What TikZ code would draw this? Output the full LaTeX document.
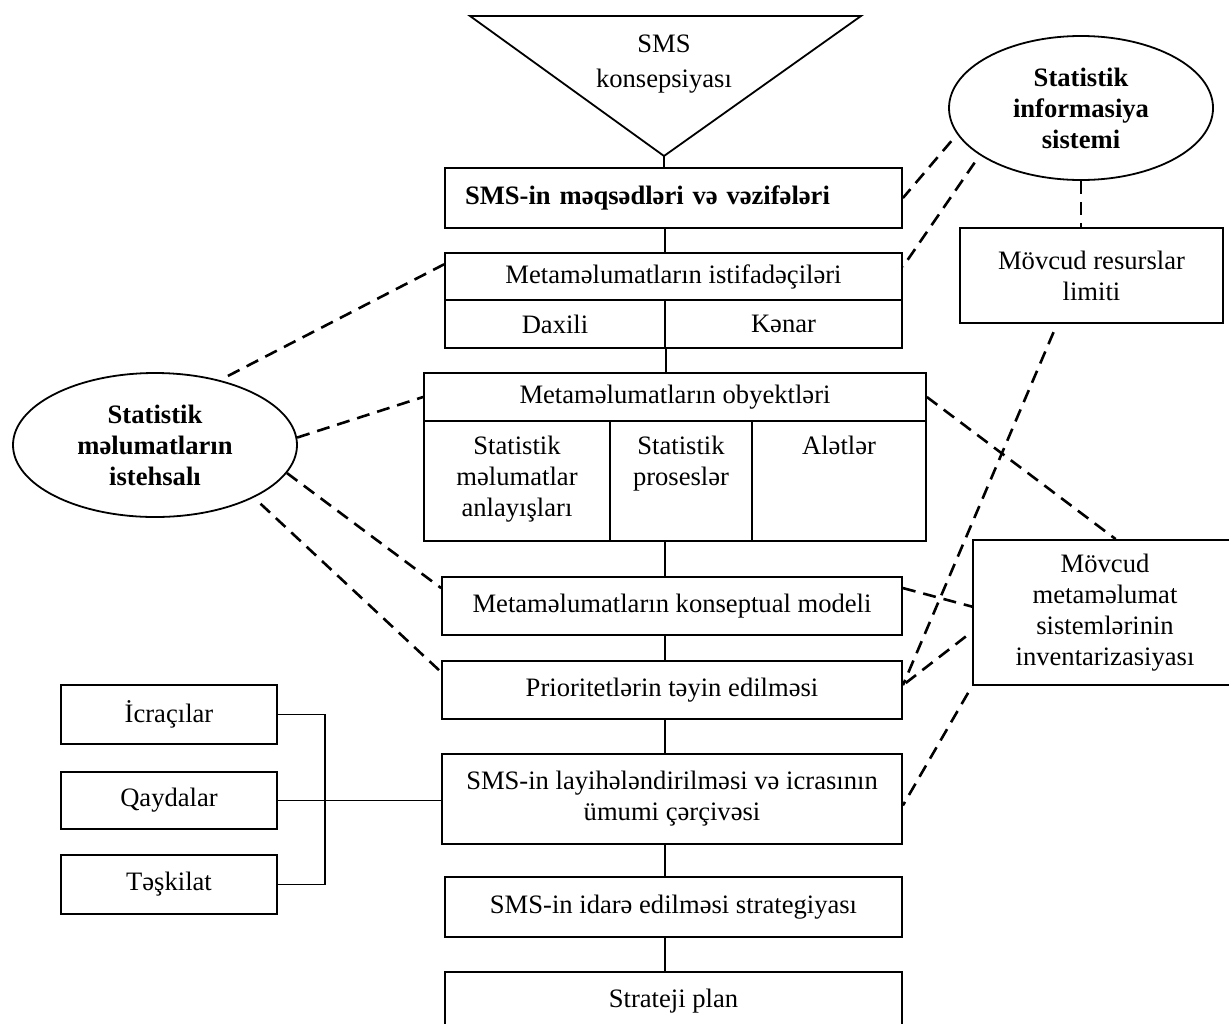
\documentclass[tikz,border=0pt]{standalone}
\usepackage{fontspec}
\setmainfont{Liberation Serif}
\usetikzlibrary{positioning,calc,shapes.geometric}

\begin{document}
\begin{tikzpicture}[x=0.5pt,y=-0.5pt,
	font=\fontsize{13.3}{15.5}\selectfont,
	box/.style={draw,line width=0.9pt,inner sep=2pt,align=center},
	oval/.style={draw,ellipse,line width=0.9pt,inner sep=0pt,align=center,font=\fontsize{13.3}{15.5}\selectfont\bfseries},
	celltext/.style={inner sep=0pt,align=center},
	wire/.style={line width=0.9pt},
	tie/.style={line width=1.3pt,dash pattern=on 6.5pt off 4pt}]
	\useasboundingbox (0,0) rectangle (1229,1023);
	\coordinate (axis) at (665,0);
	\coordinate (apex) at (664,156);
	\draw[wire,line join=miter] (470,16) -- (861,16) -- (apex) -- cycle;
	\node[align=center] (concept) at (664,64) {SMS\\[2pt]konsepsiyası};

	\node[box,minimum width=228.5pt,minimum height=30pt,text width=208.5pt,inner xsep=10pt,align=left,font=\fontsize{13.3}{15.5}\selectfont\bfseries] (goals) at (673.5,198) {SMS-in məqsədləri və vəzifələri};
	\node[box,minimum width=228.5pt,minimum height=23.5pt] (users) at (673.5,276.5) {Metaməlumatların istifadəçiləri};
	\node[box,minimum width=110pt,minimum height=24pt] (daxili) at (555,324) {Daxili};
	\node[box,minimum width=118.5pt,minimum height=24pt] (kenar) at (783.5,324) {Kənar};

	\node[box,minimum width=251pt,minimum height=24pt] (objects) at (675,397) {Metaməlumatların obyektləri};
	\node[box,minimum width=93pt,minimum height=60pt] (cellA) at (517,481) {};
	\node[box,minimum width=71pt,minimum height=60pt] (cellB) at (681,481) {};
	\node[box,minimum width=87pt,minimum height=60pt] (cellC) at (839,481) {};
	\node[celltext,below=8pt of cellA.north] (textA) {Statistik\\məlumatlar\\anlayışları};
	\node[celltext,below=8pt of cellB.north] (textB) {Statistik\\proseslər};
	\node[celltext,below=8pt of cellC.north] (textC) {Alətlər};

	\node[box,minimum width=230pt,minimum height=29pt] (model) at (672,606) {Metaməlumatların konseptual modeli};
	\node[box,minimum width=230pt,minimum height=29pt] (prio) at (672,690) {Prioritetlərin təyin edilməsi};
	\node[box,minimum width=230pt,minimum height=45pt] (frame) at (672,799) {SMS-in layihələndirilməsi və icrasının\\ümumi çərçivəsi};
	\node[box,minimum width=228.5pt,minimum height=30pt] (strategy) at (673.5,907) {SMS-in idarə edilməsi strategiyası};
	\node[box,minimum width=228.5pt,minimum height=29pt] (plan) at (673.5,1001) {Strateji plan};

	\node[box,minimum width=108pt,minimum height=29.5pt] (icra) at (169,714.5) {İcraçılar};
	\node[box,minimum width=108pt,minimum height=28.5pt] (qayda) at (169,800.5) {Qaydalar};
	\node[box,minimum width=108pt,minimum height=29.5pt] (teskilat) at (169,884.5) {Təşkilat};
	\coordinate (bus) at (325,800);

	\node[oval,minimum width=142pt,minimum height=72pt] (L) at (155,445) {Statistik\\məlumatların\\istehsalı};
	\node[oval,minimum width=132pt,minimum height=72pt] (R) at (1081,108) {Statistik\\informasiya\\sistemi};
	\node[box,minimum width=131.5pt,minimum height=47.5pt] (res) at (1091.5,275.5) {Mövcud resurslar\\limiti};
	\node[box,minimum width=132pt,minimum height=72.5pt] (inv) at (1105,612.5) {Mövcud\\metaməlumat\\sistemlərinin\\inventarizasiyası};
	\coordinate (prioE) at ($(prio.north east)!0.42!(prio.south east)$);

	\draw[wire] (apex) -- (goals.north -| apex);
	\draw[wire] (goals.south -| axis) -- (users.north -| axis);
	\draw[wire] (daxili.south east) -- (objects.north -| daxili.south east);
	\draw[wire] (cellB.south -| axis) -- (model.north -| axis);
	\foreach \a/\b in {model/prio,prio/frame,frame/strategy,strategy/plan}
		\draw[wire] (\a.south -| axis) -- (\b.north -| axis);
	\draw[wire] (icra.east) -| (bus) |- (teskilat.east);
	\draw[wire] (qayda.east) -- (qayda.east -| frame.west);

	\draw[tie,shorten <=4.5pt] (L.45) -- ($(users.north west)!0.25!(users.south west)$);
	\draw[tie] (L.3) -- (objects.west);
	\draw[tie] (L.-12) -- ($(model.north west)!0.2!(model.south west)$);
	\draw[tie,shorten <=4.5pt] (L.-28) -- ($(prio.north west)!0.2!(prio.south west)$);

	\draw[tie,shorten <=4.5pt] (R.192) -- (goals.east);
	\draw[tie,shorten <=4.5pt] (R.205) -- ($(users.north east)!0.3!(users.south east)$);
	\draw[tie] (R.south) -- (R.south |- res.north);
	\draw[tie,shorten <=4.5pt] ($(res.south west)!0.37!(res.south east)$) -- (prioE);
	\draw[tie] (objects.east) -- ($(inv.north west)!0.54!(inv.north east)$);
	\draw[tie] ($(model.north east)!0.2!(model.south east)$) -- ($(inv.north west)!0.46!(inv.south west)$);
	\draw[tie,shorten <=4pt] ($(inv.north west)!0.63!(inv.south west)$) -- (prioE);
	\draw[tie,shorten <=4pt] (inv.south west) -- ($(frame.north east)!0.57!(frame.south east)$);
\end{tikzpicture}
\end{document}
